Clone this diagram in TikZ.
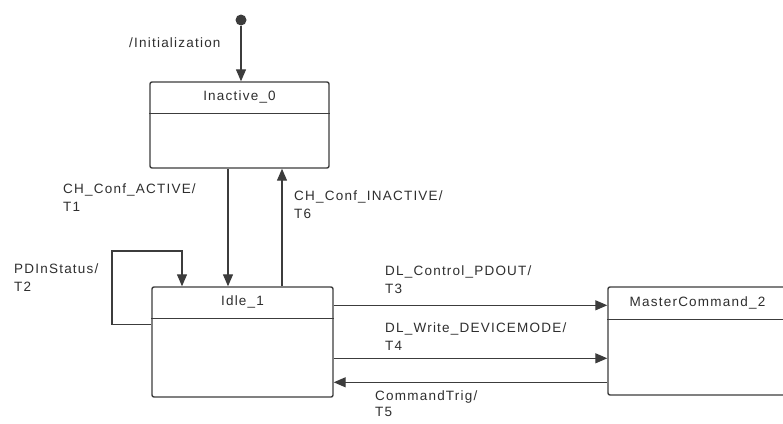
\documentclass[tikz,border=0pt]{standalone}
\usepackage{fontspec}
\setmainfont{Liberation Sans}[LetterSpace=9]
\usetikzlibrary{arrows.meta, positioning}
\definecolor{smline}{HTML}{3C3C3C}
\definecolor{smtext}{HTML}{2E2E2E}
\tikzset{
  smstate/.style={rectangle, rounded corners=2pt, draw=smline, line width=1.4pt,
                  fill=white, inner sep=0pt},
  smtitle/.style={font=\fontsize{13.5}{16}\selectfont, text=smtext, inner sep=0pt},
  initdot/.style={circle, fill=smline, inner sep=0pt, minimum size=11pt},
  trans/.style={-{Triangle[length=12pt, width=10pt]}, draw=smline, line width=1.3pt},
  lbl/.style={font=\fontsize{13.5}{18}\selectfont, text=smtext, align=left, inner sep=0pt},
}

\begin{document}
\begin{tikzpicture}[x=1pt, y=-1pt]
      \useasboundingbox (0,0) rectangle (783,423);
      \node[initdot] (init) at (241,20) {};
      \node[smstate, minimum width=179pt, minimum height=86pt] (inact) at (239.5,125) {};
      \node[smstate, minimum width=181pt, minimum height=110pt] (idle) at (242.5,342) {};
      \node[smstate, minimum width=179pt, minimum height=108pt] (mcmd) at (697.5,341) {};
      \node[smtitle] (inacttitle) at ([yshift=-16pt]inact.north) {Inactive\_0};
      \node[smtitle] (idletitle) at ([yshift=-16pt]idle.north) {Idle\_1};
      \node[smtitle] (mcmdtitle) at ([yshift=-17pt]mcmd.north) {MasterCommand\_2};
      \draw[smline, line width=1.4pt] ([yshift=-32pt]inact.north west) -- ([yshift=-32pt]inact.north east);
      \draw[smline, line width=1.4pt] ([yshift=-32pt]idle.north west) -- ([yshift=-32pt]idle.north east);
      \draw[smline, line width=1.4pt] ([yshift=-33pt]mcmd.north west) -- ([yshift=-33pt]mcmd.north east);
      % labels
      \node[lbl, anchor=north west] (linit) at (129,38) {/Initialization};
      \node[lbl, anchor=north west] (lt1) at (63,184) {CH\_Conf\_ACTIVE/\\T1};
      \node[lbl, anchor=north west] (lt6) at (294,191) {CH\_Conf\_INACTIVE/\\T6};
      \node[lbl, anchor=north west] (lt2) at (14,264) {PDInStatus/\\T2};
      \node[lbl, anchor=north west] (lt3) at (385,266) {DL\_Control\_PDOUT/\\T3};
      \node[lbl, anchor=north west] (lt4) at (385,323) {DL\_Write\_DEVICEMODE/\\T4};
      \node[lbl, anchor=north west, font=\fontsize{13.5}{15.5}\selectfont] (lt5) at (375,391) {CommandTrig/\\T5};
      % transitions
      \coordinate (loop) at (112,251);
      \draw[trans] (init) -- (init |- inact.north);
      \draw[trans] ([xshift=-11.5pt]inact.south) -- ([xshift=-11.5pt]inact.south |- idle.north);
      \draw[trans] ([xshift=39.5pt]idle.north) -- ([xshift=39.5pt]idle.north |- inact.south);
      \draw[trans] ([yshift=-38pt]idle.north west) -| (loop) -| ([xshift=-60.5pt]idle.north);
      \draw[trans] ([yshift=-19pt]idle.north east) -- ([yshift=-19pt]idle.north east -| mcmd.west);
      \draw[trans] ([yshift=-72pt]idle.north east) -- ([yshift=-72pt]idle.north east -| mcmd.west);
      \draw[trans] ([yshift=-96pt]idle.north east -| mcmd.west) -- ([yshift=-96pt]idle.north east);
    \end{tikzpicture}
\end{document}
